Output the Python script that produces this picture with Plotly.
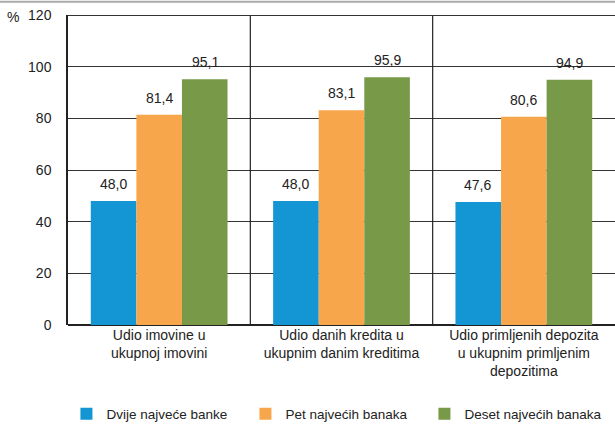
import plotly.graph_objects as go

categories = ["Udio imovine u<br>ukupnoj imovini",
              "Udio danih kredita u<br>ukupnim danim kreditima",
              "Udio primljenih depozita<br>u ukupnim primljenim<br>depozitima"]
series_names = ["Dvije najveće banke", "Pet najvećih banaka", "Deset najvećih banaka"]
dvije = [48.0, 48.0, 47.6]
pet = [81.4, 83.1, 80.6]
deset = [95.1, 95.9, 94.9]
y_ticks = [0, 20, 40, 60, 80, 100, 120]

colors = ["#1596d4", "#f8a64b", "#789a48"]
FONT = "Liberation Sans, Arial, sans-serif"
FS = 14

fig = go.Figure()
xs = [0, 1, 2]
for name, vals, col in zip(series_names, [dvije, pet, deset], colors):
    fig.add_trace(go.Bar(x=xs, y=vals, name=name, marker=dict(color=col, line=dict(width=0))))

bar_px = 46
for j, vals in enumerate([dvije, pet, deset]):
    for i, v in enumerate(vals):
        fig.add_annotation(x=xs[i], y=v, xref="x", yref="y",
                           text=f"{v:.1f}".replace(".", ","),
                           showarrow=False, yanchor="bottom",
                           xshift=(j - 1) * bar_px, yshift=7,
                           font=dict(family=FONT, size=FS, color="#222"))

for sx in [0.5, 1.5]:
    fig.add_shape(type="line", xref="x", yref="y", x0=sx, x1=sx, y0=0, y1=120,
                  line=dict(color="#222", width=1.2))
fig.add_shape(type="line", xref="x", yref="y", x0=-0.5, x1=2.5, y0=120, y1=120,
              line=dict(color="#333", width=2))
fig.add_shape(type="line", xref="paper", yref="paper", x0=-0.2, x1=1.0, y0=1.043, y1=1.043,
              line=dict(color="#aaa", width=2))

fig.add_annotation(xref="paper", yref="paper", x=-0.1, y=0.993, text="%", showarrow=False,
                   xanchor="center", yanchor="middle",
                   font=dict(family=FONT, size=FS, color="#222"))

fig.update_layout(
    width=615, height=426,
    margin=dict(l=68, r=0, t=15, b=101, autoexpand=False),
    paper_bgcolor="white", plot_bgcolor="white",
    barmode="group", bargap=0.25, bargroupgap=0,
    font=dict(family=FONT, size=FS, color="#222"),
    showlegend=True,
    legend=dict(orientation="h", x=0.488, xanchor="center", y=-0.287, yanchor="middle",
                font=dict(family=FONT, size=13.5, color="#222"),
                entrywidth=134, entrywidthmode="pixels",
                itemwidth=30, tracegroupgap=0, traceorder="normal"),
    xaxis=dict(tickmode="array", tickvals=xs, ticktext=categories, automargin=False,
               range=[-0.5, 2.5], showgrid=False, showline=False, ticks="",
               tickfont=dict(family=FONT, size=FS, color="#222"), fixedrange=True),
    yaxis=dict(range=[0, 120], tickvals=y_ticks, showgrid=True, gridcolor="#333",
               gridwidth=1, zeroline=True, zerolinecolor="#222", zerolinewidth=2,
               showline=True, linecolor="#222", linewidth=1.5, ticks="", automargin=False,
               ticklabelstandoff=12,
               tickfont=dict(family=FONT, size=FS, color="#222")),
)

fig.write_html("out.html", config={"displayModeBar": False},
               post_script="document.body.style.margin='0';")
